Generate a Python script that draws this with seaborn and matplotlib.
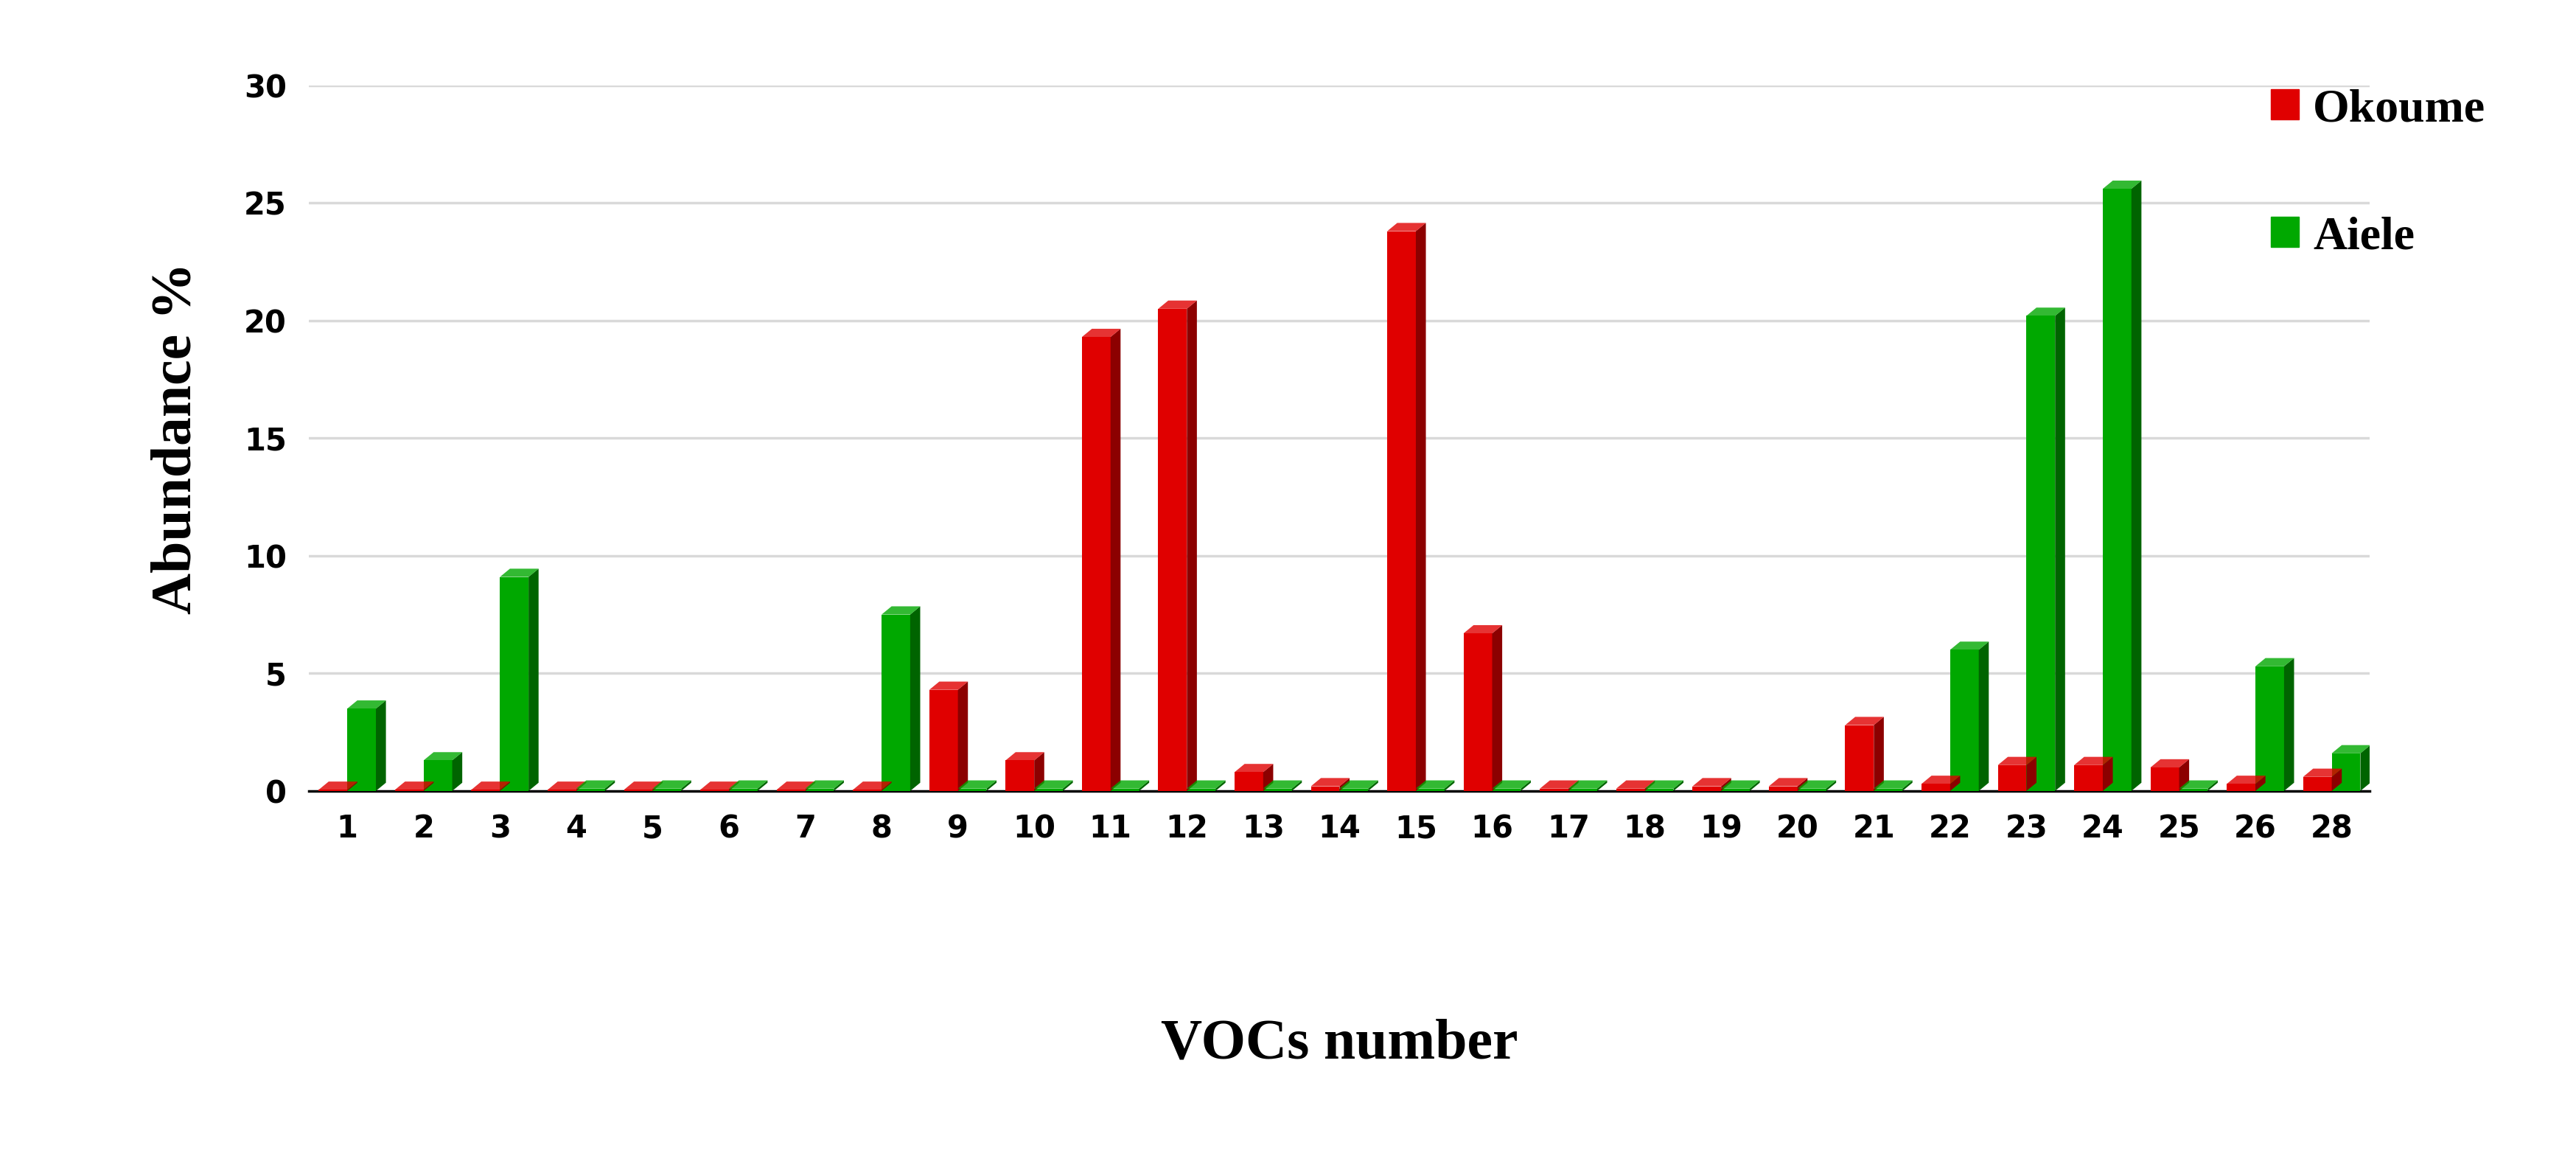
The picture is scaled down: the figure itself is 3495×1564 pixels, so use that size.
import matplotlib
matplotlib.use("Agg")
import matplotlib.pyplot as plt
import seaborn as sns
import pandas as pd
from matplotlib.patches import Polygon, Patch

vocs = ["1","2","3","4","5","6","7","8","9","10","11","12","13","14","15","16","17","18","19","20","21","22","23","24","25","26","28"]
okoume = [0.05,0.05,0.05,0.05,0.05,0.05,0.05,0.05,4.3,1.3,19.3,20.5,0.8,0.2,23.8,6.7,0.1,0.1,0.2,0.2,2.8,0.3,1.1,1.1,1.0,0.3,0.6]
aiele = [3.5,1.3,9.1,0.1,0.1,0.1,0.1,7.5,0.1,0.1,0.1,0.1,0.1,0.1,0.1,0.1,0.1,0.1,0.1,0.1,0.1,6.0,20.2,25.6,0.1,5.3,1.6]

df = pd.DataFrame({"VOC": vocs*2, "val": okoume+aiele,
                   "Species": ["Okoume"]*len(vocs)+["Aiele"]*len(vocs)})

sns.set_theme(style="white")
plt.rcParams['font.family'] = ['DejaVu Sans']
plt.rcParams['text.color'] = 'black'
fig = plt.figure(figsize=(34.95, 15.64), dpi=100)
ax = fig.add_axes([0.12, 0.314, 0.80, 0.612])
sns.barplot(data=df, x="VOC", y="val", hue="Species", order=vocs,
            palette={"Okoume": "#e00000", "Aiele": "#00a800"}, dodge=True, saturation=1,
            width=0.75, ax=ax, legend=False, zorder=3, edgecolor="none")
for p in list(ax.patches):
    x, w, h = p.get_x(), p.get_width(), p.get_height()
    c = matplotlib.colors.to_hex(p.get_facecolor())
    d = w*0.35
    dc = "#8c0000" if c == "#e00000" else "#006400"
    ax.add_patch(Polygon([(x+w, 0), (x+w+d, 0.35), (x+w+d, h+0.35), (x+w, h)],
                         closed=True, facecolor=dc, edgecolor="none", zorder=3))
    ax.add_patch(Polygon([(x, h), (x+d, h+0.35), (x+w+d, h+0.35), (x+w, h)],
                         closed=True, facecolor=c, edgecolor="none", alpha=0.8, zorder=3))
ax.set_ylim(0, 30)
ax.set_yticks(range(0, 31, 5))
ax.yaxis.grid(True, color="#d9d9d9", linewidth=2.5, zorder=0)
for s in ["top", "right", "left"]:
    ax.spines[s].set_visible(False)
ax.spines["bottom"].set_color("black")
ax.spines["bottom"].set_linewidth(2.5)
ax.tick_params(axis="both", labelsize=30, length=0, pad=22, labelcolor="black")
for t in ax.get_xticklabels()+ax.get_yticklabels():
    t.set_fontweight("bold")
ax.set_xlabel("VOCs number", fontsize=56, fontweight="bold", family="Liberation Serif", labelpad=170, color="black")
ax.set_ylabel("Abundance %", fontsize=56, fontweight="bold", family="Liberation Serif", labelpad=40, color="black")
fig.legend(handles=[Patch(color="#e00000", label="Okoume"), Patch(color="#00a800", label="Aiele")],
           loc="upper left", bbox_to_anchor=(0.865, 0.96), frameon=False,
           prop={"family": "Liberation Serif", "weight": "bold", "size": 46},
           labelspacing=1.8, handlelength=0.6, handleheight=0.6, handletextpad=0.3)
fig.savefig("out.png", dpi=100)
